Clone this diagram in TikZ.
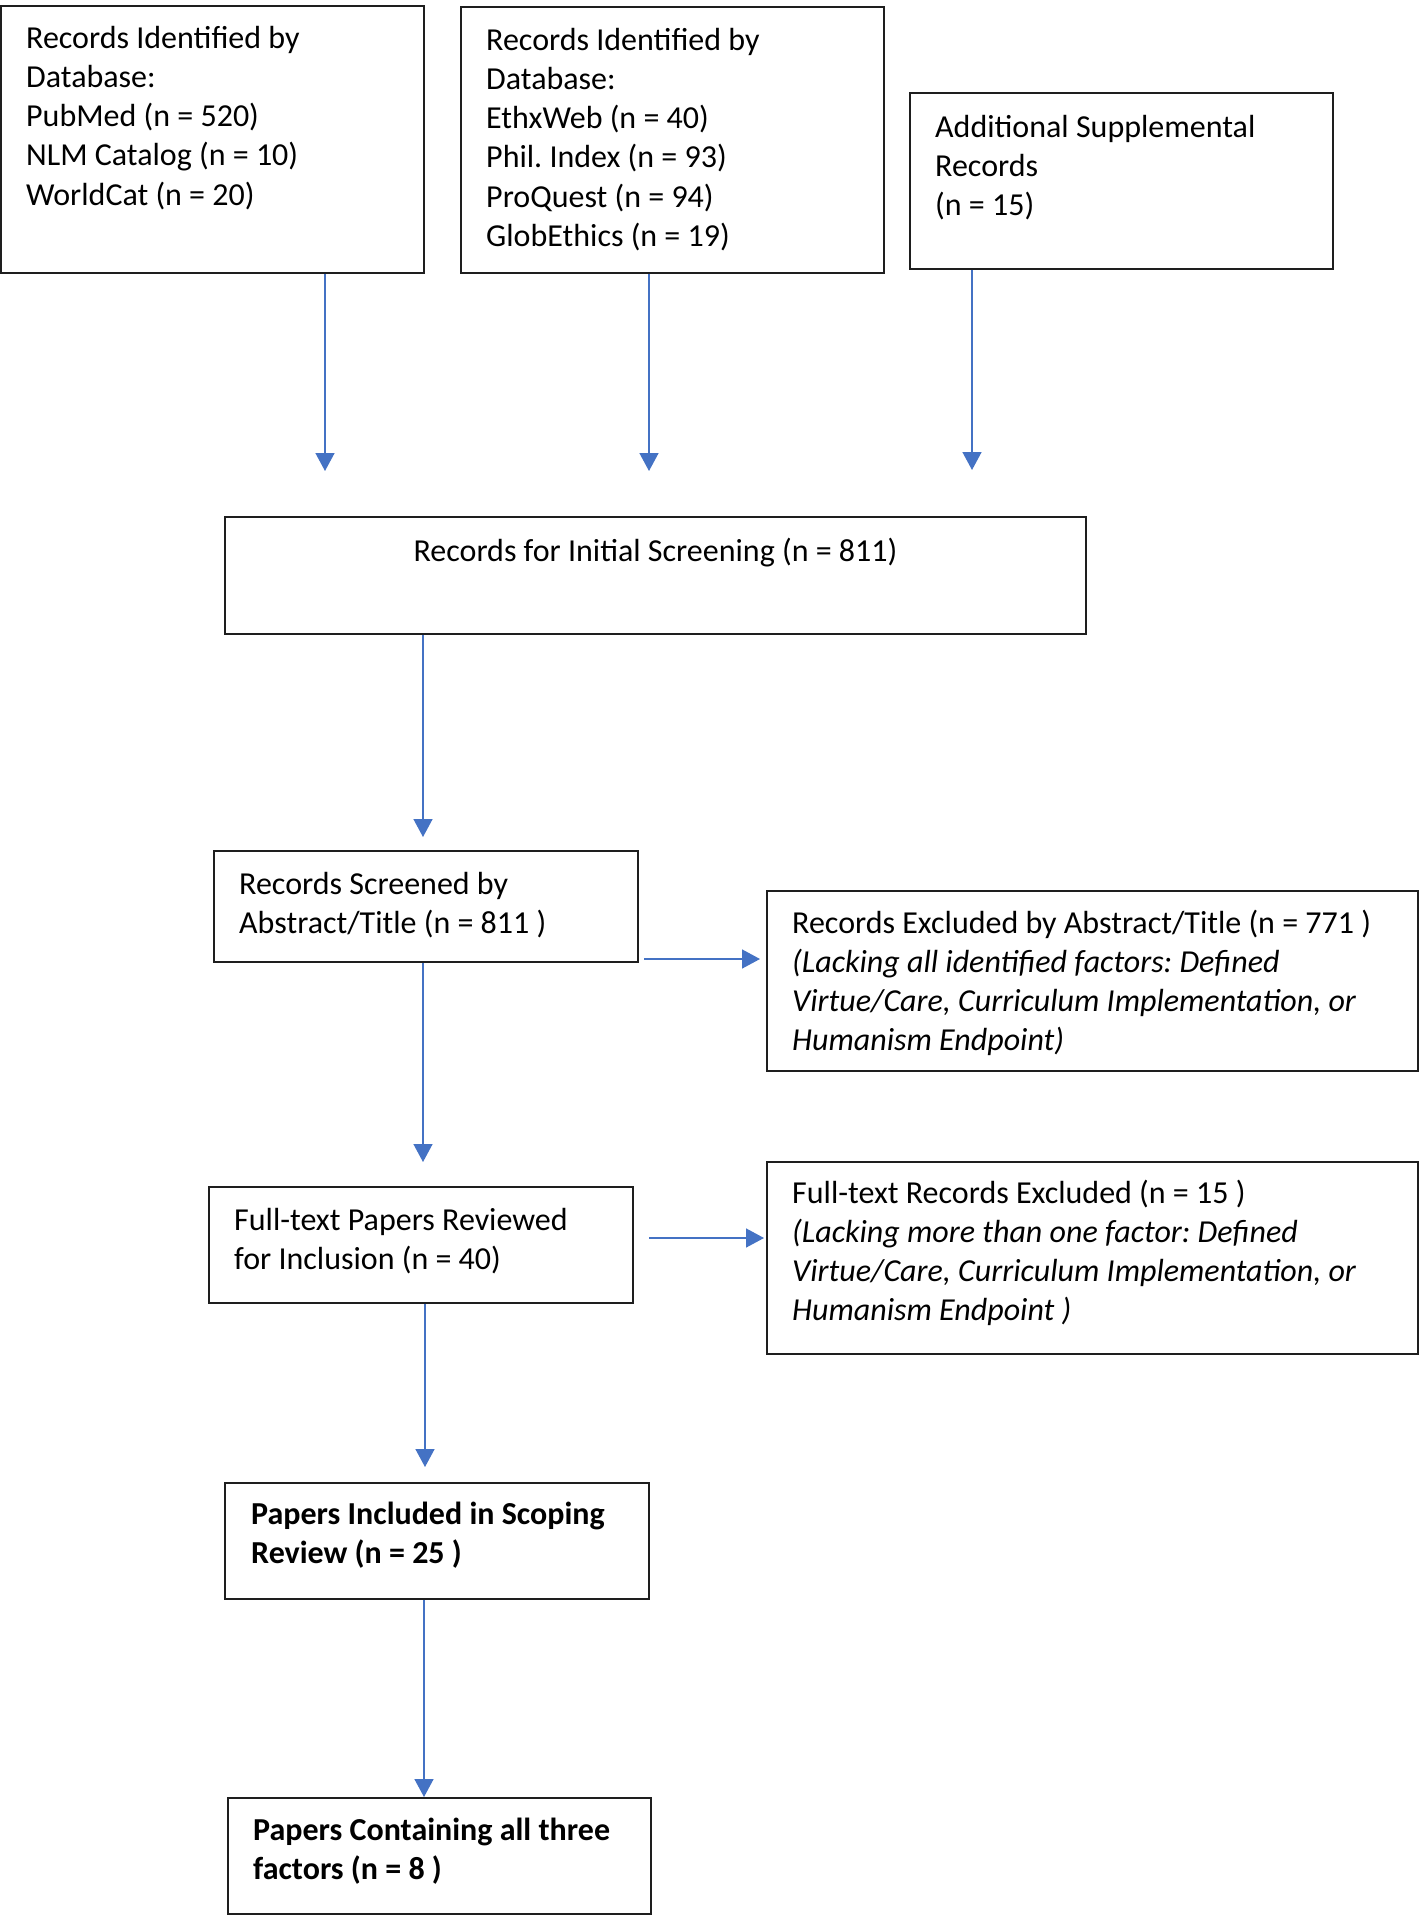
\documentclass[tikz,border=0pt]{standalone}
\usepackage{fontspec}
\setmainfont{Carlito}
\frenchspacing
\usetikzlibrary{arrows.meta}
\definecolor{arrblue}{RGB}{68,114,196}
\definecolor{boxline}{RGB}{30,30,30}
\begin{document}
\begin{tikzpicture}[x=1pt,y=-1pt,
  box/.style={draw=boxline, line width=1.6pt, rectangle, inner sep=0pt},
  txt/.style={anchor=base west, inner sep=0pt, align=left, font=\fontsize{32}{39.3}\selectfont},
  arr/.style={draw=arrblue, line width=1.5pt, -{Triangle[length=18pt,width=19pt]}}]
\fill[white] (0,0) rectangle (1424,1916);
\useasboundingbox (0,0) rectangle (1424,1916);

% boxes
\node[box, minimum width=423pt, minimum height=267pt] (b1) at (212.5,139.5) {};
\node[box, minimum width=423pt, minimum height=266pt] (b2) at (672.5,140) {};
\node[box, minimum width=423pt, minimum height=176pt] (b3) at (1121.5,181) {};
\node[box, minimum width=861pt, minimum height=117pt] (b4) at (655.5,575.5) {};
\node[box, minimum width=424pt, minimum height=111pt] (b5) at (426,906.5) {};
\node[box, minimum width=651pt, minimum height=180pt] (b6) at (1092.5,981) {};
\node[box, minimum width=424pt, minimum height=116pt] (b7) at (421,1245) {};
\node[box, minimum width=651pt, minimum height=192pt] (b8) at (1092.5,1258) {};
\node[box, minimum width=424pt, minimum height=116pt] (b9) at (437,1541) {};
\node[box, minimum width=423pt, minimum height=116pt] (b10) at (439.5,1856) {};

% texts (anchored at the baseline of their last line)
\node[txt] (t1) at (26,205.2) {Records Identified by\\Database:\\PubMed (n = 520)\\NLM Catalog (n = 10)\\WorldCat (n = 20)};
\node[txt] (t2) at (486,246.5) {Records Identified by\\Database:\\EthxWeb (n = 40)\\Phil. Index (n = 93)\\ProQuest (n = 94)\\GlobEthics (n = 19)};
\node[txt] (t3) at (935,215.6) {Additional Supplemental\\Records\\(n = 15)};
\node[txt, anchor=base] (t4) at (655.5,561) {Records for Initial Screening (n = 811)};
\node[txt] (t5) at (239,933.3) {Records Screened by\\Abstract/Title (n = 811 )};
\node[txt] (t6) at (792,1050.9) {Records Excluded by Abstract/Title (n = 771 )\\\textit{(Lacking all identified factors: Defined}\\\textit{Virtue/Care, Curriculum Implementation, or}\\\textit{Humanism Endpoint)}};
\node[txt] (t7) at (234,1269.3) {Full-text Papers Reviewed\\for Inclusion (n = 40)};
\node[txt] (t8) at (792,1320.9) {Full-text Records Excluded (n = 15 )\\\textit{(Lacking more than one factor: Defined}\\\textit{Virtue/Care, Curriculum Implementation, or}\\\textit{Humanism Endpoint )}};
\node[txt, font=\fontsize{32}{39.3}\selectfont\bfseries] (t9) at (251,1563.3) {Papers Included in Scoping\\Review (n = 25 )};
\node[txt, font=\fontsize{32}{39.3}\selectfont\bfseries] (t10) at (253,1879.3) {Papers Containing all three\\factors (n = 8 )};

% arrow end points
\coordinate (e1) at (325,471);
\coordinate (e2) at (649,471);
\coordinate (e3) at (972,470);
\coordinate (e4) at (423,837);
\coordinate (s5) at (644,959);
\coordinate (e5) at (760,959);
\coordinate (e6) at (423,1162);
\coordinate (s7) at (649,1238);
\coordinate (e7) at (764,1238);
\coordinate (e8) at (425,1467);
\coordinate (e9) at (424,1797);

% arrows
\draw[arr] (b1.south -| e1) -- (e1);
\draw[arr] (b2.south -| e2) -- (e2);
\draw[arr] (b3.south -| e3) -- (e3);
\draw[arr] (b4.south -| e4) -- (e4);
\draw[arr] (s5) -- (e5);
\draw[arr] (b5.south -| e6) -- (e6);
\draw[arr] (s7) -- (e7);
\draw[arr] (b7.south -| e8) -- (e8);
\draw[arr] (b9.south -| e9) -- (e9);
\end{tikzpicture}
\end{document}
